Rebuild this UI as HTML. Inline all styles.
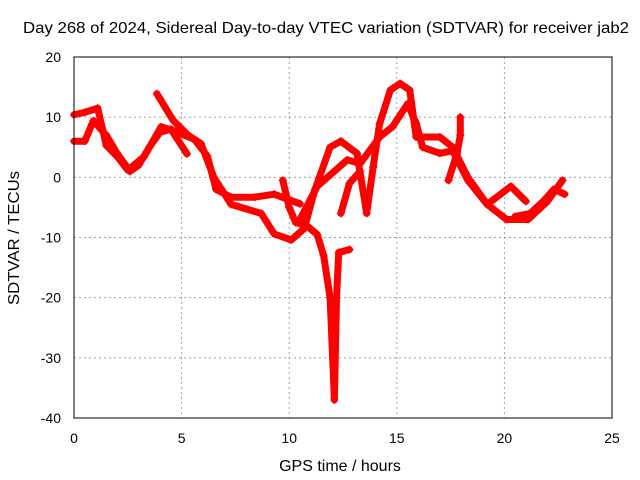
<!DOCTYPE html>
<html><head><meta charset="utf-8"><style>
body{margin:0;background:#fff;}
svg{display:block;font-family:"Liberation Sans",sans-serif;}
</style></head><body>
<svg id="chart" width="640" height="480" viewBox="0 0 640 480">
<rect width="640" height="480" fill="#fff"/>
<text x="326" y="33" font-size="16" text-anchor="middle" textLength="606" lengthAdjust="spacingAndGlyphs">Day 268 of 2024, Sidereal Day-to-day VTEC variation (SDTVAR) for receiver jab2</text>
<text transform="translate(19,238) rotate(-90)" font-size="16" text-anchor="middle" textLength="134" lengthAdjust="spacingAndGlyphs">SDTVAR / TECUs</text>
<text x="340" y="471" font-size="16" text-anchor="middle">GPS time / hours</text>
<g id="grid"></g>
<g id="ticks"></g>
<g id="series"></g>
<rect x="74" y="57" width="538" height="361" fill="none" stroke="#000" stroke-width="1"/>
</svg>
<script>
const xTicks=[0,5,10,15,20,25];
const yTicks=[-40,-30,-20,-10,0,10,20];
const trackA=[[0,10.4],[0.5,10.8],[1.1,11.5],[1.5,5.3],[2,3.5],[2.5,1.2],[3.25,3.4],[4.05,8.4],[4.6,7.8],[5.6,6.3],[6.2,3.5],[6.6,-2],[7.3,-3.3],[8.4,-3.3],[9.3,-2.8],[10.5,-4.4]];
const trackB=[[0,6],[0.5,6],[0.9,9.4],[1.5,7],[2,4],[2.6,1],[3,2],[3.5,5],[4,7.5],[4.5,8],[5.25,3.9]];
const trackC=[[3.85,13.9],[4.6,9.5],[5.3,7],[5.9,5.6],[6.5,0],[7.3,-4.5],[8.7,-6],[9.3,-9.4],[10.1,-10.4],[10.7,-8.5],[11.2,-2],[11.9,5],[12.4,6],[13.15,4],[13.6,-6],[13.9,1.7],[14.2,8.9],[14.7,14.5],[15.15,15.6],[15.6,14.5],[15.9,6.7],[17,6.7],[17.6,5],[18.3,0],[19.2,-4.5],[20.1,-7],[21.1,-7],[22,-4],[22.7,-0.5]];
const trackD=[[9.7,-0.5],[10,-5],[10.3,-7.5],[10.8,-8],[11.3,-9.5],[11.6,-13],[11.9,-20],[12.1,-37],[12.2,-20],[12.3,-12.5],[12.8,-12]];
const trackE=[[10.5,-7],[11.3,-1.5],[12.7,2.9],[13.3,2.3],[14.2,6.7],[14.8,8.4],[15.5,12.2],[15.9,9],[16.2,5],[17,4],[17.6,4.4],[18.3,-0.5],[19.2,-4.5],[20.3,-1.5],[21,-4]];
const trackF=[[17.95,10],[17.95,7],[17.8,4],[17.4,-0.5]];
const trackG=[[20.5,-6.5],[21.2,-6],[21.8,-4],[22.3,-2],[22.8,-2.8]];
const trackH=[[12.4,-6],[12.8,-1],[13.3,1]];
const tracks=[trackA,trackB,trackC,trackD,trackE,trackF,trackG,trackH];
const X=t=>74+t*538/25, Y=v=>57+(20-v)*361/60;
const NS='http://www.w3.org/2000/svg';
const g=document.getElementById('grid'),tk=document.getElementById('ticks'),s=document.getElementById('series');
function mk(tag,attrs,parent){const e=document.createElementNS(NS,tag);for(const k in attrs)e.setAttribute(k,attrs[k]);parent.appendChild(e);return e;}
xTicks.forEach(t=>{
 if(t>0&&t<25){const l=mk('line',{x1:X(t),x2:X(t),y1:57,y2:418,stroke:'#a0a0a0','stroke-dasharray':'2,3'},g);
 
 }
 const tx=mk('text',{x:X(t),y:443,'font-size':14,'text-anchor':'middle'},tk);tx.textContent=t;
 
 
});
yTicks.forEach(v=>{
 if(v>-40&&v<20){const l=mk('line',{x1:74,x2:612,y1:Y(v),y2:Y(v),stroke:'#a0a0a0','stroke-dasharray':'2,3'},g);
 
 }
 const tx=mk('text',{x:61,y:Y(v)+5,'font-size':14,'text-anchor':'end'},tk);tx.textContent=v;
 
 
});
tracks.forEach((tr,i)=>{
 const pl=mk('polyline',{points:tr.map(p=>X(p[0])+','+Y(p[1])).join(' '),fill:'none',stroke:'#f00','stroke-width':7,'stroke-linejoin':'round','stroke-linecap':'round'},s);
 
 
 tr.forEach(p=>{const x=X(p[0]),y=Y(p[1]);
  const m=mk('path',{d:`M${x-4},${y}H${x+4}M${x},${y-4}V${y+4}`,stroke:'#f00','stroke-width':1.2},s);
  
  });
});
</script>
</body></html>
